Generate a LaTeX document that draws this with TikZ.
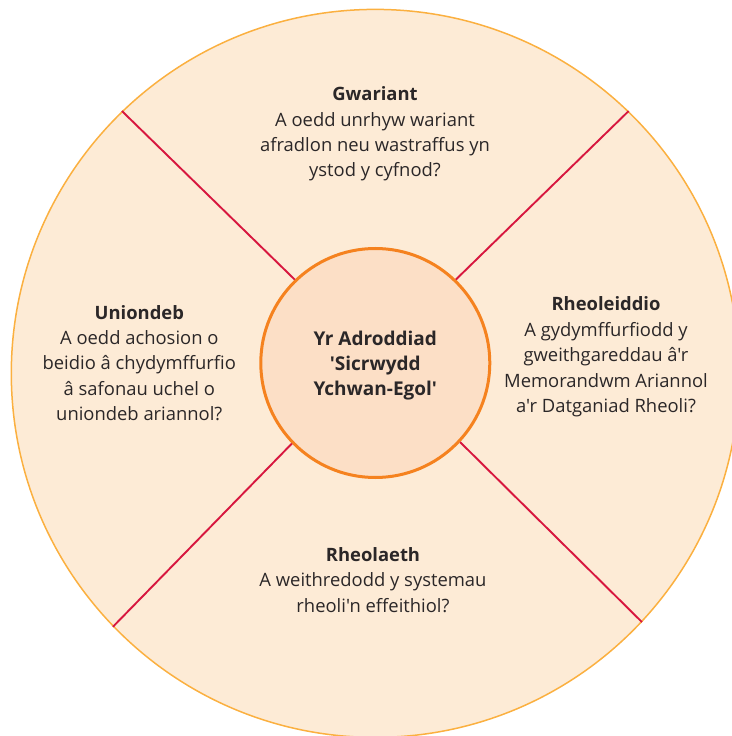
\documentclass[tikz,border=0pt]{standalone}
\usepackage{fontspec}
\setmainfont{Open Sans}[Ligatures=TeXOff]
\definecolor{peach}{HTML}{FDEBD6}
\definecolor{rim}{HTML}{FBB040}
\definecolor{hubfill}{HTML}{FCDFC6}
\definecolor{hubrim}{HTML}{F5821F}
\definecolor{spokecol}{HTML}{D7173F}
\definecolor{ink}{HTML}{2B2728}
\begin{document}
\begin{tikzpicture}[x=1pt,y=1pt,
    txt/.style={align=center, text=ink, font=\fontsize{18.4}{25.4}\selectfont},
    spoke/.style={spokecol, line width=1.9pt}]
    \useasboundingbox (-375.3,-362.6) rectangle (355.7,373.4);
    \node[circle, fill=peach, draw=rim, line width=1.5pt, minimum size=728pt, inner sep=0pt] (wheel) at (0,0) {};
    \node[circle, fill=hubfill, draw=hubrim, line width=3pt, minimum size=229pt, inner sep=0pt] (hub) at (0,10.4) {};
    \node[txt, font=\fontsize{19}{25.4}\selectfont\bfseries] (report) at ([yshift=-2.5pt]hub.center) {Yr Adroddiad\\'Sicrwydd\\Ychwan-Egol'};
    \foreach \a in {46,134,224,317}
        \draw[spoke] (hub.\a) -- (wheel.\a);
    \node[txt] (gwariant) at (-0.3,239.4) {\textbf{Gwariant}\\A oedd unrhyw wariant\\afradlon neu wastraffus yn\\ystod y cyfnod?};
    \node[txt] (uniondeb) at (-236,10.4) {\textbf{Uniondeb}\\A oedd achosion o\\beidio â chydymffurfio\\â safonau uchel o\\uniondeb ariannol?};
    \node[txt] (rheoleiddio) at (230.7,16.4) {\textbf{Rheoleiddio}\\A gydymffurfiodd y\\gweithgareddau â'r\\Memorandwm Ariannol\\a'r Datganiad Rheoli?};
    \node[txt] (rheolaeth) at (-2.3,-206.6) {\textbf{Rheolaeth}\\A weithredodd y systemau\\rheoli'n effeithiol?};
\end{tikzpicture}
\end{document}
